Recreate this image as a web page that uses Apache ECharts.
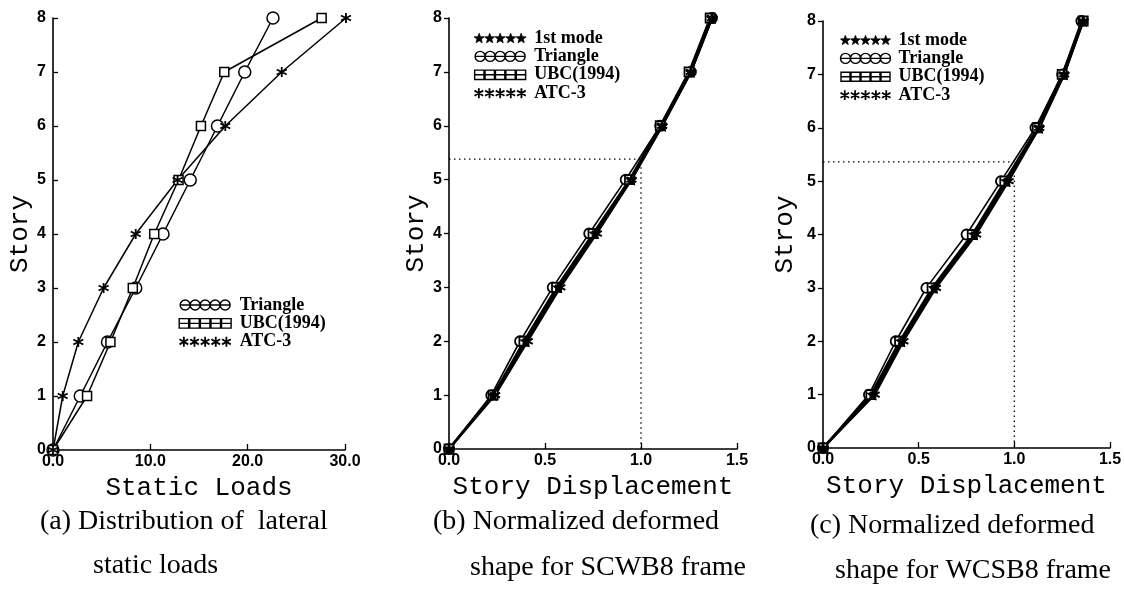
<!DOCTYPE html>
<html>
<head>
<meta charset="utf-8">
<script src="https://cdn.jsdelivr.net/npm/echarts@6/dist/echarts.min.js"></script>
<style>html,body{margin:0;padding:0;background:#fff}#c{width:1125px;height:590px}</style>
</head>
<body>
<div id="c"></div>
<script>
// ---- data ----
const stories = [0, 1, 2, 3, 4, 5, 6, 7, 8];
const storyTicks = ['0', '1', '2', '3', '4', '5', '6', '7', '8'];
// (a) lateral static loads
const loadTriangle = [0, 2.8, 5.6, 8.5, 11.3, 14.1, 16.9, 19.7, 22.6];
const loadUBC      = [0, 3.5, 5.9, 8.2, 10.4, 12.9, 15.2, 17.6, 27.6];
const loadATC      = [0, 1.0, 2.6, 5.2, 8.5, 12.8, 17.7, 23.5, 30.1];
// (b) SCWB8 normalized deformed shape
const dispModeB = [0, 0.23, 0.40, 0.57, 0.76, 0.95, 1.11, 1.26, 1.37];
const dispTriB  = [0, 0.22, 0.37, 0.54, 0.73, 0.92, 1.10, 1.26, 1.37];
const dispUBCB  = [0, 0.23, 0.39, 0.56, 0.75, 0.94, 1.10, 1.25, 1.36];
const dispATCB  = [0, 0.24, 0.41, 0.58, 0.77, 0.95, 1.11, 1.26, 1.37];
// (c) WCSB8 normalized deformed shape
const dispModeC = [0, 0.26, 0.41, 0.58, 0.79, 0.96, 1.13, 1.26, 1.36];
const dispTriC  = [0, 0.24, 0.38, 0.54, 0.75, 0.93, 1.11, 1.25, 1.35];
const dispUBCC  = [0, 0.25, 0.40, 0.57, 0.78, 0.95, 1.12, 1.25, 1.36];
const dispATCC  = [0, 0.27, 0.42, 0.59, 0.80, 0.97, 1.13, 1.26, 1.36];
// reference (dotted) lines
const guideBx = [0, 1.0, 1.0], guideBy = [5.38, 5.38, 0];
const guideCx = [0, 1.0, 1.0], guideCy = [5.36, 5.36, 0];
// axis tick labels
const loadTicks = ['0.0', '10.0', '20.0', '30.0'];
const dispTicks = ['0.0', '0.5', '1.0', '1.5'];

// ---- symbols ----
function circleP(cx){return `M${cx-5},5a5,5 0 1,0 10,0a5,5 0 1,0 -10,0`;}
function squareP(cx){return `M${cx-4.5},0.5h9v9h-9z`;}
function asterP(cx){return `M${cx},0.3L${cx},9.7M${cx-4.1},2.6L${cx+4.1},7.4M${cx-4.1},7.4L${cx+4.1},2.6`;}
function starP(cx){
  let s='';
  for(let i=0;i<10;i++){
    const r = i%2===0 ? 5 : 2.1;
    const a = -Math.PI/2 + i*Math.PI/5;
    const x = (cx + r*Math.cos(a)).toFixed(2), y = (5.3 + r*Math.sin(a)).toFixed(2);
    s += (i===0?'M':'L') + x + ',' + y;
  }
  return s + 'Z';
}
function row(fn, line){
  let s = line ? 'M0,5L50,5' : '';
  for(let i=0;i<5;i++) s += fn(5 + i*10);
  return 'path://' + s;
}
const symCircle = 'circle', symSquare = 'rect';
const symAster = 'path://' + asterP(5);
const symStar = 'path://' + starP(5);

const pairs = (xs, ys) => xs.map((x, i) => [x, ys[i]]);

function mk(name, xs, idx, sym, size, fill, lw, bw){
  return {
    name, type: 'line', xAxisIndex: idx, yAxisIndex: idx,
    data: pairs(xs, stories), clip: false,
    symbol: sym, symbolSize: size,
    lineStyle: {color: '#000', width: lw},
    itemStyle: {color: fill, borderColor: '#000', borderWidth: bw},
    emphasis: {disabled: true}, z: 3
  };
}
function guide(xs, ys, idx){
  return {
    type: 'line', xAxisIndex: idx, yAxisIndex: idx, data: pairs(xs, ys),
    symbol: 'none', silent: true, lineStyle: {color: '#000', width: 1.3, type: [1.5, 3.5]}, z: 1
  };
}

const tickFont = {color: '#000', fontFamily: 'Liberation Sans', fontWeight: 'bold', fontSize: 16};
const nameFont = (s) => ({color: '#000', fontFamily: 'Liberation Mono', fontSize: s});
const legFont = {color: '#000', fontFamily: 'Liberation Serif', fontWeight: 'bold', fontSize: 18, lineHeight: 16, padding: [0, 0, 0, 3]};

function xAx(idx, max, interval, labels, name, gap){
  return {
    gridIndex: idx, type: 'value', min: 0, max, interval,
    axisLine: {show: true, onZero: false, lineStyle: {color: '#000', width: 1.6}},
    axisTick: {show: true, inside: true, length: 6, lineStyle: {color: '#000', width: 1.3}},
    axisLabel: {...tickFont, margin: 4, formatter: (v) => labels[Math.round(v / interval)]},
    splitLine: {show: false},
    name, nameLocation: 'middle', nameGap: gap, nameTextStyle: nameFont(26)
  };
}
function yAx(idx, name, gap, inside){
  return {
    gridIndex: idx, type: 'value', min: 0, max: 8, interval: 1,
    axisLine: {show: true, onZero: false, lineStyle: {color: '#000', width: 1.6}},
    axisTick: {show: true, inside, length: 5, lineStyle: {color: '#000', width: 1.3}},
    axisLabel: {...tickFont, margin: 7, formatter: (v) => storyTicks[v]},
    splitLine: {show: false},
    name, nameLocation: 'middle', nameGap: gap, nameRotate: 90, nameTextStyle: nameFont(26)
  };
}
function legend(left, top, names, w){
  const icons = {
    '1st mode': {icon: row(starP, false), itemStyle: {color: '#000', borderColor: '#000', borderWidth: 0.8}},
    'Triangle': {icon: row(circleP, true), itemStyle: {color: '#fff', borderColor: '#000', borderWidth: 1.4}},
    'UBC(1994)': {icon: row(squareP, true), itemStyle: {color: '#fff', borderColor: '#000', borderWidth: 1.4}},
    'ATC-3': {icon: row(asterP, false), itemStyle: {color: 'none', borderColor: '#000', borderWidth: 1.8}}
  };
  return {
    left, top, orient: 'vertical', itemWidth: w, itemHeight: 10, itemGap: 0.4,
    selectedMode: false, padding: 0, textStyle: legFont,
    data: names.map(n => ({name: n, icon: icons[n].icon, itemStyle: icons[n].itemStyle}))
  };
}
function caption(text, left, top){
  return {type: 'text', left, top, style: {text, fill: '#000', font: '28px "Liberation Serif"'}};
}

const option = {
  backgroundColor: '#fff',
  animation: false,
  grid: [
    {left: 53, top: 18, width: 292, height: 432},
    {left: 449, top: 18, width: 288, height: 431},
    {left: 823, top: 21, width: 287, height: 427}
  ],
  xAxis: [
    xAx(0, 30, 10, loadTicks, 'Static Loads', 21),
    xAx(1, 1.5, 0.5, dispTicks, 'Story Displacement', 20),
    xAx(2, 1.5, 0.5, dispTicks, 'Story Displacement', 20)
  ],
  yAxis: [
    yAx(0, 'Story', 14, true),
    yAx(1, 'Story', 20, false),
    yAx(2, 'Stroy', 25, false)
  ],
  legend: [
    legend(177, 296, ['Triangle', 'UBC(1994)', 'ATC-3'], 53),
    legend(472, 29, ['1st mode', 'Triangle', 'UBC(1994)', 'ATC-3'], 52),
    legend(838, 31, ['1st mode', 'Triangle', 'UBC(1994)', 'ATC-3'], 50)
  ],
  series: [
    mk('Triangle', loadTriangle, 0, symCircle, 12, '#fff', 1.5, 1.5),
    mk('UBC(1994)', loadUBC, 0, symSquare, 9, '#fff', 1.5, 1.5),
    mk('ATC-3', loadATC, 0, symAster, 10, 'none', 1.5, 1.8),
    guide(guideBx, guideBy, 1),
    mk('Triangle', dispTriB, 1, symCircle, 10, '#fff', 1.6, 1.8),
    mk('UBC(1994)', dispUBCB, 1, symSquare, 9, '#fff', 2.2, 1.8),
    mk('ATC-3', dispATCB, 1, symAster, 10, 'none', 2.2, 2),
    mk('1st mode', dispModeB, 1, symStar, 11, '#000', 2.6, 1),
    guide(guideCx, guideCy, 2),
    mk('Triangle', dispTriC, 2, symCircle, 10, '#fff', 1.6, 1.8),
    mk('UBC(1994)', dispUBCC, 2, symSquare, 9, '#fff', 2.2, 1.8),
    mk('ATC-3', dispATCC, 2, symAster, 10, 'none', 2.2, 2),
    mk('1st mode', dispModeC, 2, symStar, 11, '#000', 2.6, 1)
  ],
  graphic: [
    caption('(a) Distribution of  lateral', 40, 508),
    caption('static loads', 93, 552),
    caption('(b) Normalized deformed', 433, 508),
    caption('shape for SCWB8 frame', 470, 554),
    caption('(c) Normalized deformed', 810, 512),
    caption('shape for WCSB8 frame', 835, 557)
  ]
};
const chart = echarts.init(document.getElementById('c'), null, {renderer: 'canvas'});
chart.setOption(option);
</script>
</body>
</html>
